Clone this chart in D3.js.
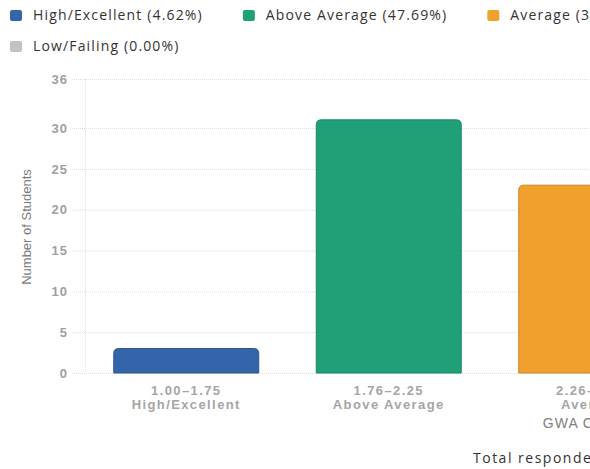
<!DOCTYPE html>
<html>
<head>
<meta charset="utf-8">
<script src="https://cdn.jsdelivr.net/npm/d3@7"></script>
<style>
  html, body { margin: 0; padding: 0; background: #fff; overflow: hidden; }
  svg { display: block; }
</style>
</head>
<body>
<svg id="chart"></svg>
<script>
// GWA distribution of respondents
const categories = ["High/Excellent", "Above Average", "Average", "Below Average", "Low/Failing"];
const ranges = ["1.00–1.75", "1.76–2.25", "2.26–2.75", "2.76–3.00", "3.01–5.00"];
const students = [3, 31, 23, 8, 0];
const colors = ["#3465ab", "#1fa078", "#f0a02d", "#e0603a", "#c3c3bb"];
const yTicks = [0, 5, 10, 15, 20, 25, 30, 36];

const total = d3.sum(students);
const W = 1110, H = 469;
const plot = { left: 85, right: 1097.5, top: 79, bottom: 373 };

const svg = d3.select("#chart").attr("width", W).attr("height", H);

// Legend, wrapping left-aligned rows
const legend = svg.append("g");
const legendMax = 1000;
let lx = 10, ly = 16;
categories.forEach((c, i) => {
  const pct = (students[i] / total * 100).toFixed(2);
  const g = legend.append("g");
  g.append("rect").attr("x", 0).attr("y", -6).attr("width", 12).attr("height", 11)
    .attr("rx", 2).attr("fill", colors[i]);
  const t = g.append("text").attr("x", 23).attr("y", 4)
    .attr("font-family", "Open Sans, sans-serif").attr("font-size", 14)
    .attr("letter-spacing", 1.15).attr("fill", "#333")
    .text(`${c} (${pct}%)`);
  const w = 23 + t.node().getComputedTextLength();
  if (lx + w > legendMax) { lx = 10; ly += 31; }
  g.attr("transform", `translate(${lx},${ly})`);
  lx += w + 40;
});

const x = d3.scaleBand().domain(categories).range([plot.left, plot.right])
  .paddingInner(0.284).paddingOuter(0.142);
const y = d3.scaleLinear().domain([0, 36]).range([plot.bottom, plot.top]);

// Horizontal grid lines
svg.append("g").selectAll("line").data(yTicks).join("line")
  .attr("x1", 72).attr("x2", plot.right)
  .attr("y1", d => y(d) + 0.5).attr("y2", d => y(d) + 0.5)
  .attr("stroke", "#dedede").attr("stroke-dasharray", "1,1");

// Vertical axis line
svg.append("line").attr("x1", plot.left + 0.5).attr("x2", plot.left + 0.5)
  .attr("y1", plot.top).attr("y2", plot.bottom)
  .attr("stroke", "#e0e0e0").attr("stroke-dasharray", "1,1");

// Y axis tick labels
const yAxis = d3.axisLeft(y).tickValues(yTicks).tickSize(0).tickPadding(0);
const ya = svg.append("g").attr("transform", `translate(68,0)`).call(yAxis);
ya.select(".domain").remove();
ya.selectAll("text").attr("font-family", "Liberation Sans, Arial, sans-serif")
  .attr("font-size", 13).attr("letter-spacing", 1).attr("font-weight", "bold").attr("fill", "#a0a0a0");

// Y axis title
svg.append("text").attr("transform", `translate(31,${(plot.top + plot.bottom) / 2 + 1}) rotate(-90)`)
  .attr("text-anchor", "middle").attr("font-family", "Liberation Sans Narrow, Liberation Sans, Arial, sans-serif")
  .attr("font-size", 13).attr("fill", "#7a7a7a").text("Number of Students");

// Bars with rounded top corners
function barPath(x0, w, yTop, yBase, r) {
  const h = yBase - yTop;
  r = Math.min(r, h, w / 2);
  return `M${x0},${yBase}V${yTop + r}Q${x0},${yTop} ${x0 + r},${yTop}H${x0 + w - r}` +
    `Q${x0 + w},${yTop} ${x0 + w},${yTop + r}V${yBase}Z`;
}
svg.append("g").selectAll("path").data(categories.map((c, i) => ({ c, v: students[i], col: colors[i] })))
  .join("path")
  .filter(d => d.v > 0)
  .attr("d", d => barPath(x(d.c), x.bandwidth(), y(d.v), y(0), 5))
  .attr("fill", d => d.col)
  .attr("stroke", d => d3.color(d.col).darker(0.5))
  .attr("stroke-width", 1);

// X axis labels
const xl = svg.append("g");
categories.forEach((c, i) => {
  const cx = x(c) + x.bandwidth() / 2;
  const t = xl.append("text").attr("text-anchor", "middle")
    .attr("font-family", "Liberation Sans, Arial, sans-serif").attr("font-size", 13)
    .attr("letter-spacing", 1.4).attr("font-weight", "bold").attr("fill", "#a5a5a5");
  t.append("tspan").attr("x", cx).attr("y", 395).text(ranges[i]);
  t.append("tspan").attr("x", cx).attr("y", 409).text(c);
});

// X axis title
svg.append("text").attr("x", (plot.left + plot.right) / 2 + 4).attr("y", 428)
  .attr("text-anchor", "middle").attr("font-family", "Liberation Sans, Arial, sans-serif")
  .attr("font-size", 14).attr("letter-spacing", 1).attr("fill", "#808080").text("GWA Category");

// Footer
svg.append("text").attr("x", 473).attr("y", 463)
  .attr("font-family", "Open Sans, sans-serif").attr("font-size", 14)
  .attr("letter-spacing", 1.5).attr("fill", "#333")
  .text(`Total respondents: ${total}`);
</script>
</body>
</html>
